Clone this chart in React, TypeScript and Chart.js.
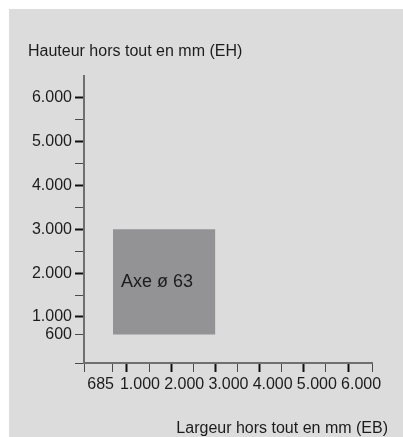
import React, { useEffect, useRef } from 'react';
import { Chart, registerables } from 'chart.js';

Chart.register(...registerables);

// ---- data ----
const TITLE_Y = 'Hauteur hors tout en mm (EH)';
const TITLE_X = 'Largeur hors tout en mm (EB)';
const X_MIN = 30;
const X_MAX = 6540;
const Y_MIN = -50;
const Y_MAX = 6500;
const X_TICKS = [685, 1000, 1500, 2000, 2500, 3000, 3500, 4000, 4500, 5000, 5500, 6000];
const X_LABELED = [685, 1000, 2000, 3000, 4000, 5000, 6000];
const Y_TICKS = [600, 1000, 1500, 2000, 2500, 3000, 3500, 4000, 4500, 5000, 5500, 6000];
const Y_LABELED = [600, 1000, 2000, 3000, 4000, 5000, 6000];
const MAJOR = [1000, 2000, 3000, 4000, 5000, 6000];
const RECT_X = [685, 3000];
const RECT_Y = [600, 3000];
const RECT_LABEL = 'Axe ø 63';

// ---- style ----
const FONT = '"Liberation Sans", Arial, Helvetica, sans-serif';
const BG = '#dcdcdd';
const RECT_COLOR = '#939396';
const TEXT = '#1c1c1c';
const AXIS = '#6f6f6f';

const fmt = (v: number) => String(v).replace(/\B(?=(\d{3})+(?!\d))/g, '.');

const overlay = {
  id: 'overlay',
  beforeDraw(chart: any) {
    const { ctx } = chart;
    ctx.save();
    ctx.fillStyle = BG;
    ctx.fillRect(0, 0, chart.width, chart.height);
    ctx.restore();
  },
  afterDraw(chart: any) {
    const { ctx } = chart;
    const xs = chart.scales.x;
    const ys = chart.scales.y;
    ctx.save();
    ctx.fillStyle = TEXT;
    ctx.textBaseline = 'middle';
    // label inside the rectangle
    ctx.font = `18px ${FONT}`;
    const rx = xs.getPixelForValue(RECT_X[0]) + 8;
    const ry = (ys.getPixelForValue(RECT_Y[0]) + ys.getPixelForValue(RECT_Y[1])) / 2;
    ctx.textAlign = 'left';
    ctx.fillText(RECT_LABEL, rx, ry);
    // x tick labels
    ctx.font = `16px ${FONT}`;
    const ly = xs.bottom + 13;
    X_LABELED.forEach((v, i) => {
      const px = xs.getPixelForValue(v);
      if (i === 0) {
        ctx.textAlign = 'right';
        ctx.fillText(fmt(v), px + 1, ly);
      } else {
        ctx.textAlign = 'left';
        ctx.fillText(fmt(v), px - 7, ly);
      }
    });
    // x axis title
    ctx.textAlign = 'right';
    ctx.fillText(TITLE_X, chart.width - 15, chart.height - 8);
    ctx.restore();
  },
};

const tickWidth = (c: any) => (c.tick && MAJOR.includes(c.tick.value) ? 2 : 1);
const tickColor = (c: any) => (c.tick && MAJOR.includes(c.tick.value) ? '#111111' : '#4a4a4a');

export default function App() {
  const ref = useRef<HTMLCanvasElement | null>(null);

  useEffect(() => {
    if (!ref.current) return;
    const chart = new Chart(ref.current, {
      type: 'line',
      data: {
        datasets: [
          {
            data: RECT_X.map((x) => ({ x, y: RECT_Y[1] })),
            fill: { value: RECT_Y[0] },
            backgroundColor: RECT_COLOR,
            borderColor: 'rgba(0,0,0,0)',
            borderWidth: 0,
            pointRadius: 0,
            pointHoverRadius: 0,
          },
        ],
      },
      options: {
        animation: false,
        responsive: false,
        events: [],
        layout: { padding: { left: 19, right: 31, top: 0, bottom: 65 } },
        plugins: {
          legend: { display: false },
          tooltip: { enabled: false },
          title: {
            display: true,
            text: TITLE_Y,
            align: 'start',
            color: TEXT,
            font: { family: FONT, size: 16, weight: 'normal' },
            padding: { top: 33, bottom: 14.8 },
          },
        },
        scales: {
          x: {
            type: 'linear',
            min: X_MIN,
            max: X_MAX,
            afterBuildTicks: (scale: any) => {
              scale.ticks = [scale.min, ...X_TICKS, scale.max].map((value) => ({ value }));
            },
            ticks: { display: false, autoSkip: false },
            grid: {
              display: true,
              drawOnChartArea: false,
              drawTicks: true,
              tickLength: 9,
              tickWidth,
              tickColor,
            },
            border: { display: true, color: AXIS, width: 2 },
          },
          y: {
            type: 'linear',
            min: Y_MIN,
            max: Y_MAX,
            afterBuildTicks: (scale: any) => {
              scale.ticks = [scale.min, ...Y_TICKS].map((value) => ({ value }));
            },
            afterFit: (scale: any) => {
              scale.width = 56;
            },
            ticks: {
              autoSkip: false,
              padding: 3,
              color: TEXT,
              font: { family: FONT, size: 16 },
              callback: (v: any) => (Y_LABELED.includes(Number(v)) ? fmt(Number(v)) : ''),
            },
            grid: {
              display: true,
              drawOnChartArea: false,
              drawTicks: true,
              tickLength: 9,
              tickWidth,
              tickColor,
            },
            border: { display: true, color: AXIS, width: 2 },
          },
        },
      },
      plugins: [overlay],
    } as any);
    return () => chart.destroy();
  }, []);

  return (
    <div style={{ position: 'absolute', left: 9, top: 9, width: 394, height: 428 }}>
      <canvas ref={ref} width={394} height={428} />
    </div>
  );
}
